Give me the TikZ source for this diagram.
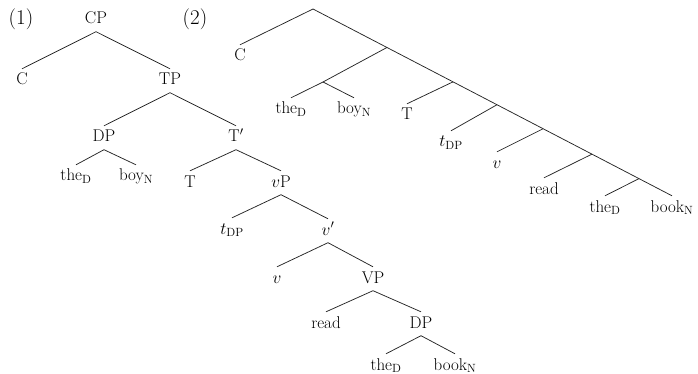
\documentclass[tikz,border=0pt]{standalone}
\usetikzlibrary{calc}
\tikzset{
  lbl/.style={anchor=base, inner xsep=1pt, inner ysep=4pt,
              text height=12pt, text depth=3.5pt,
              font=\fontsize{17}{20}\selectfont},
  exnum/.style={anchor=base, inner sep=0pt, font=\fontsize{21}{25}\selectfont},
  branch/.style={draw=black!85, line width=0.75pt},
}
\newcommand{\sbD}{\textsubscript{D}}
\newcommand{\sbN}{\textsubscript{N}}
\newcommand{\sbDP}{\textsubscript{DP}}
\begin{document}
\begin{tikzpicture}[x=1pt,y=-1pt]
  \useasboundingbox (0,0) rectangle (698,374);

  % ---------- (1): the labelled tree ----------
  \node[exnum] (ex1) at (21,25) {(1)};
  \node[lbl] (CP)  at (96,24)  {CP};
  \node[lbl] (C)   at (22,85)  {C};
  \node[lbl] (TP)  at (170,85) {TP};
  \node[lbl] (DPa) at (104,142) {DP};
  \node[lbl] (Tb)  at (236,142) {T$'$};
  \node[lbl] (thea) at (76,181)  {the\sbD};
  \node[lbl] (boya) at (136,181) {boy\sbN};
  \node[lbl] (T)   at (190,187) {T};
  \node[lbl] (vP)  at (281,187) {$v$P};
  \node[lbl] (tDP) at (232,234) {$t$\sbDP};
  \node[lbl] (vb)  at (328,235) {$v'$};
  \node[lbl] (v)   at (277,283) {$v$};
  \node[lbl] (VP)  at (373,283) {VP};
  \node[lbl] (read) at (326,328) {read};
  \node[lbl] (DPb) at (421,328) {DP};
  \node[lbl] (theb) at (386,370) {the\sbD};
  \node[lbl] (bookb) at (455,370) {book\sbN};

  \draw[branch] (CP.south) -- (C.north);
  \draw[branch] (CP.south) -- (TP.north);
  \draw[branch] (TP.south) -- (DPa.north);
  \draw[branch] (TP.south) -- (Tb.north);
  \draw[branch] (DPa.south) -- (thea.north);
  \draw[branch] (DPa.south) -- (boya.north);
  \draw[branch] (Tb.south) -- (T.north);
  \draw[branch] (Tb.south) -- (vP.north);
  \draw[branch] (vP.south) -- (tDP.north);
  \draw[branch] (vP.south) -- (vb.north);
  \draw[branch] (vb.south) -- (v.north);
  \draw[branch] (vb.south) -- (VP.north);
  \draw[branch] (VP.south) -- (read.north);
  \draw[branch] (VP.south) -- (DPb.north);
  \draw[branch] (DPb.south) -- (theb.north);
  \draw[branch] (DPb.south) -- (bookb.north);

  % ---------- (2): the bare tree ----------
  \node[exnum] (ex2) at (195,25) {(2)};
  \coordinate (root) at (313,9);
  \node[lbl] (C2)    at (240,61)  {C};
  \node[lbl] (thec)  at (291,114) {the\sbD};
  \node[lbl] (boyc)  at (354,114) {boy\sbN};
  \node[lbl] (T2)    at (407,120) {T};
  \node[lbl] (tDP2)  at (451,147) {$t$\sbDP};
  \node[lbl] (v2)    at (497,168) {$v$};
  \node[lbl] (read2) at (544,194) {read};
  \node[lbl] (thed)  at (605,212) {the\sbD};
  \node[lbl] (bookd) at (672,212) {book\sbN};

  % branching points along the right spine
  \coordinate (s1) at ($(root)!0.206!(bookd.north)$);
  \coordinate (s2) at ($(root)!0.390!(bookd.north)$);
  \coordinate (s3) at ($(root)!0.5125!(bookd.north)$);
  \coordinate (s4) at ($(root)!0.641!(bookd.north)$);
  \coordinate (s5) at ($(root)!0.777!(bookd.north)$);
  \coordinate (s6) at ($(root)!0.908!(bookd.north)$);
  \coordinate (dp) at (323,82);

  \draw[branch] (root) -- (C2.north);
  \draw[branch] (root) -- (bookd.north);
  \draw[branch] (s1) -- (dp);
  \draw[branch] (dp) -- (thec.north);
  \draw[branch] (dp) -- (boyc.north);
  \draw[branch] (s2) -- (T2.north);
  \draw[branch] (s3) -- (tDP2.north);
  \draw[branch] (s4) -- (v2.north);
  \draw[branch] (s5) -- (read2.north);
  \draw[branch] (s6) -- (thed.north);
\end{tikzpicture}
\end{document}
